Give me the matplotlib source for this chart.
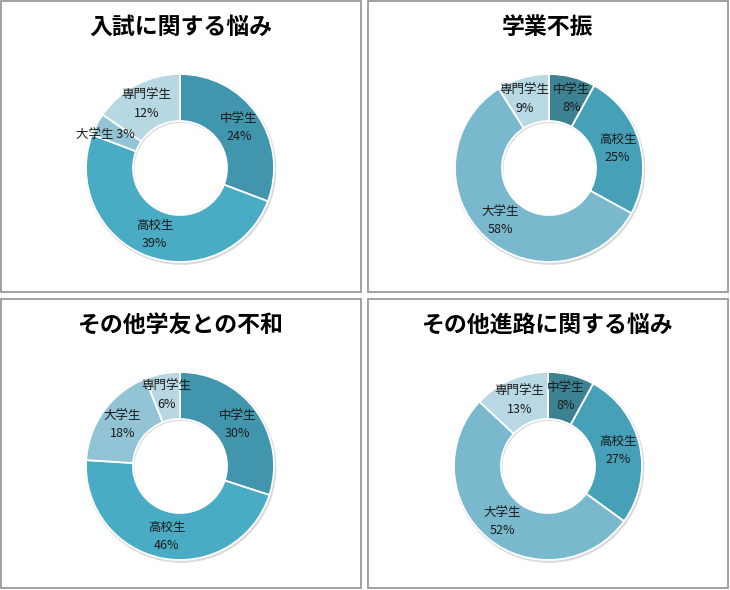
import numpy as np
import matplotlib
matplotlib.use("Agg")
import matplotlib.pyplot as plt
from matplotlib.patches import Rectangle

plt.rcParams['font.family'] = ['Noto Sans CJK JP', 'DejaVu Sans']

# data
categories = ['中学生', '高校生', '大学生', '専門学生']
titles = ['入試に関する悩み', '学業不振', 'その他学友との不和', 'その他進路に関する悩み']
nyushi = [24, 39, 3, 12]
gakugyo = [8, 25, 58, 9]
gakuyu = [30, 46, 18, 6]
shinro = [8, 27, 52, 13]
series = [nyushi, gakugyo, gakuyu, shinro]

colors_a = ['#4196AE', '#4AABC5', '#92C4D6', '#B7D7E3']
colors_b = ['#3C8293', '#46A0B8', '#7AB8CE', '#B8D8E4']
panel_colors = [colors_a, colors_b, colors_a, colors_b]

W, H = 730, 590
fig = plt.figure(figsize=(W / 100, H / 100), dpi=100)

# panel boxes in pixels (x0, y0, x1, y1) from top-left
boxes = [(1, 1, 361, 292), (368, 1, 728, 292), (1, 299, 361, 588), (368, 299, 728, 588)]
centers = [(180, 168), (549, 168), (180, 466), (548, 466)]
title_y = [27, 27, 325, 325]
R = 94  # outer radius in px

# small label nudges (panel, slice) -> dx, dy in axes units
nudge = {(0, 2): (-0.12, 0), (1, 0): (0.05, 0), (1, 3): (-0.05, 0)}

for (x0, y0, x1, y1) in boxes:
    fig.patches.append(Rectangle((x0 / W, 1 - y1 / H), (x1 - x0) / W, (y1 - y0) / H,
                                 transform=fig.transFigure, fill=False,
                                 edgecolor='#9a9a9a', linewidth=1.3))

for i in range(4):
    cx, cy = centers[i]
    half = 110
    ax = fig.add_axes([(cx - half) / W, 1 - (cy + half) / H, 2 * half / W, 2 * half / H])
    lim = half / R
    vals = series[i]
    # subtle shadow ring
    ax.pie([1], radius=1.015, colors=['#d9d9d9'], startangle=90,
           wedgeprops=dict(width=0.52, linewidth=0), center=(0.01, -0.015))
    ax.pie(vals, colors=panel_colors[i], startangle=90, counterclock=False,
           wedgeprops=dict(width=0.5, edgecolor='white', linewidth=1.3))
    ax.set_xlim(-lim, lim)
    ax.set_ylim(-lim, lim)
    ax.set_aspect('equal')
    ax.axis('off')

    total = sum(vals)
    cum = 0
    for j, v in enumerate(vals):
        mid = (cum + v / 2) / total * 2 * np.pi
        cum += v
        r = 0.76
        dx, dy = nudge.get((i, j), (0, 0))
        x = r * np.sin(mid) + dx
        y = r * np.cos(mid) + dy
        if i == 0 and j == 2:
            txt = f'{categories[j]} {v}%'
        else:
            txt = f'{categories[j]}\n{v}%'
        ax.text(x, y, txt, ha='center', va='center', fontsize=9,
                color='#1a1a1a', linespacing=1.5)

    tx = (boxes[i][0] + boxes[i][2]) / 2
    fig.text(tx / W, 1 - title_y[i] / H, titles[i], ha='center', va='center',
             fontsize=16.5, fontweight='bold', color='black')

fig.savefig('out.png', dpi=100, facecolor='white')
